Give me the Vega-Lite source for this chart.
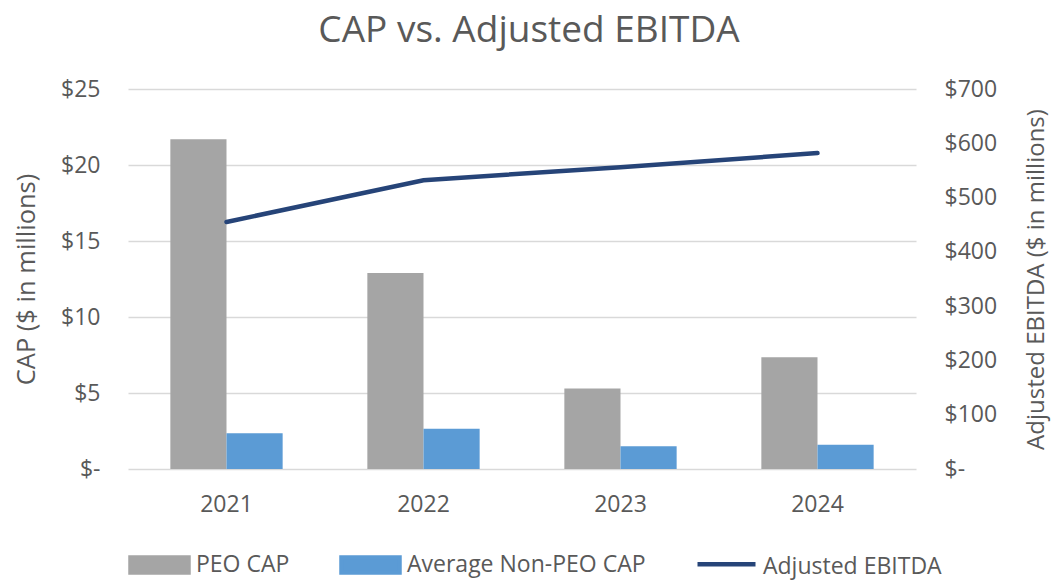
{
  "$schema": "https://vega.github.io/schema/vega-lite/v6.json",
  "width": 788,
  "height": 380,
  "autosize": {"type": "none"},
  "padding": {"left": 128, "top": 89, "right": 139, "bottom": 111},
  "background": "white",
  "title": {"text": "CAP vs. Adjusted EBITDA", "fontSize": 37, "font": "Open Sans", "fontWeight": "normal", "color": "#595959", "offset": 28, "anchor": "middle", "dx": 7},
  "datasets": {
    "cap": [
      {"year": "2021", "series": "PEO CAP", "value": 21.7},
      {"year": "2021", "series": "Average Non-PEO CAP", "value": 2.35},
      {"year": "2022", "series": "PEO CAP", "value": 12.9},
      {"year": "2022", "series": "Average Non-PEO CAP", "value": 2.65},
      {"year": "2023", "series": "PEO CAP", "value": 5.3},
      {"year": "2023", "series": "Average Non-PEO CAP", "value": 1.5},
      {"year": "2024", "series": "PEO CAP", "value": 7.35},
      {"year": "2024", "series": "Average Non-PEO CAP", "value": 1.6}
    ],
    "ebitda": [
      {"year": "2021", "ebitda": 455},
      {"year": "2022", "ebitda": 532},
      {"year": "2023", "ebitda": 556},
      {"year": "2024", "ebitda": 582}
    ]
  },
  "config": {
    "view": {"stroke": null},
    "font": "Open Sans",
    "axis": {"labelColor": "#595959", "titleColor": "#595959", "labelFont": "Open Sans", "titleFont": "Open Sans", "labelFontSize": 23, "titleFontSize": 24, "titleFontWeight": "normal", "domain": false, "ticks": false}
  },
  "layer": [
    {
      "data": {"name": "cap"},
      "mark": {"type": "bar"},
      "encoding": {
        "x": {"field": "year", "type": "ordinal", "scale": {"paddingInner": 0.43, "paddingOuter": 0.215}, "axis": {"title": null, "labelAngle": 0, "labelPadding": 24, "grid": false}},
        "xOffset": {"field": "series", "type": "nominal", "sort": ["PEO CAP", "Average Non-PEO CAP"], "scale": {"paddingInner": 0, "paddingOuter": 0}},
        "y": {"field": "value", "type": "quantitative", "scale": {"domain": [0, 25]}, "axis": {"title": "CAP ($ in millions)", "titleFontSize": 25.5, "values": [0, 5, 10, 15, 20, 25], "labelExpr": "datum.value == 0 ? '$-' : '$' + datum.value", "labelPadding": 28, "titlePadding": 21, "grid": true, "gridColor": "#D9D9D9", "gridWidth": 1.3}},
        "color": {
          "field": "series", "type": "nominal",
          "scale": {"domain": ["PEO CAP", "Average Non-PEO CAP", "Adjusted EBITDA"], "range": ["#A5A5A5", "#5B9BD5", "#264478"]},
          "legend": {
            "title": null, "orient": "bottom", "direction": "horizontal", "offset": 17,
            "labelFontSize": 23, "labelColor": "#595959", "labelFont": "Open Sans", "labelLimit": 400,
            "symbolSize": 3364, "columnPadding": 42, "labelOffset": 5,
            "encode": {"symbols": {"update": {
              "shape": {"signal": "datum.label == 'Adjusted EBITDA' ? 'M-1,-0.1H1' : 'M-1,-0.26H1V0.26H-1Z'"},
              "fill": {"signal": "datum.label == 'Adjusted EBITDA' ? 'transparent' : (datum.label == 'PEO CAP' ? '#A5A5A5' : '#5B9BD5')"},
              "stroke": {"signal": "datum.label == 'Adjusted EBITDA' ? '#264478' : 'transparent'"},
              "strokeWidth": {"value": 4.5},
              "opacity": {"value": 1}
            }}}
          }
        }
      }
    },
    {
      "data": {"name": "ebitda"},
      "mark": {"type": "line", "strokeWidth": 4.5, "strokeCap": "round"},
      "encoding": {
        "x": {"field": "year", "type": "ordinal"},
        "y": {"field": "ebitda", "type": "quantitative", "scale": {"domain": [0, 700]}, "axis": {"orient": "right", "title": "Adjusted EBITDA ($ in millions)", "titleAngle": 270, "values": [0, 100, 200, 300, 400, 500, 600, 700], "labelExpr": "datum.value == 0 ? '$-' : '$' + datum.value", "labelPadding": 28, "titlePadding": 52, "grid": false}},
        "color": {"datum": "Adjusted EBITDA"}
      }
    }
  ],
  "resolve": {"scale": {"y": "independent"}}
}
